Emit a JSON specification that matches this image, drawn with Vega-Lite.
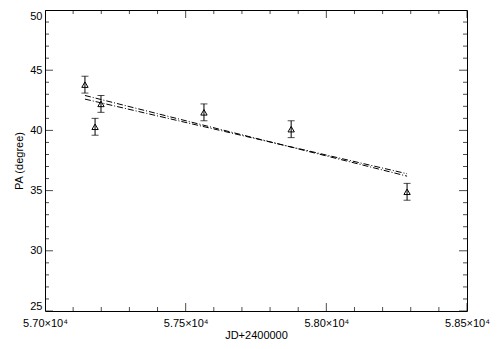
{
  "$schema": "https://vega.github.io/schema/vega-lite/v6.json",
  "width": 422,
  "height": 301,
  "autosize": {"type": "none"},
  "padding": {"left": 45, "top": 10, "right": 35, "bottom": 38},
  "background": "white",
  "config": {
    "view": {"stroke": "black", "strokeWidth": 1},
    "axis": {"labelFont": "Liberation Sans", "titleFont": "Liberation Sans", "labelFontSize": 11, "titleFontSize": 11, "titleFontWeight": "normal", "domain": false, "ticks": false, "labelColor": "black", "titleColor": "black", "grid": false}
  },
  "datasets": {
    "obs": [
      {"jd": 57142, "pa": 43.8, "lo": 43.1, "hi": 44.5},
      {"jd": 57178, "pa": 40.3, "lo": 39.6, "hi": 41.0},
      {"jd": 57199, "pa": 42.2, "lo": 41.5, "hi": 42.9},
      {"jd": 57565, "pa": 41.5, "lo": 40.8, "hi": 42.2},
      {"jd": 57875, "pa": 40.1, "lo": 39.4, "hi": 40.8},
      {"jd": 58287, "pa": 34.9, "lo": 34.2, "hi": 35.6}
    ],
    "fit": [
      {"jd": 57142, "pa": 42.9, "fit": "a"},
      {"jd": 58287, "pa": 36.2, "fit": "a"},
      {"jd": 57142, "pa": 42.6, "fit": "b"},
      {"jd": 58287, "pa": 36.4, "fit": "b"}
    ],
    "xmaj": [{"v": 57000}, {"v": 57500}, {"v": 58000}, {"v": 58500}],
    "xmin": [{"v": 57100}, {"v": 57200}, {"v": 57300}, {"v": 57400}, {"v": 57600}, {"v": 57700}, {"v": 57800}, {"v": 57900}, {"v": 58100}, {"v": 58200}, {"v": 58300}, {"v": 58400}],
    "ymaj": [{"v": 25}, {"v": 30}, {"v": 35}, {"v": 40}, {"v": 45}, {"v": 50}],
    "ymin": [{"v": 26}, {"v": 27}, {"v": 28}, {"v": 29}, {"v": 31}, {"v": 32}, {"v": 33}, {"v": 34}, {"v": 36}, {"v": 37}, {"v": 38}, {"v": 39}, {"v": 41}, {"v": 42}, {"v": 43}, {"v": 44}, {"v": 46}, {"v": 47}, {"v": 48}, {"v": 49}]
  },
  "layer": [
    {
      "data": {"name": "fit"},
      "mark": {"type": "line", "color": "black", "strokeWidth": 1, "strokeDash": [6, 2, 1, 2]},
      "encoding": {
        "x": {"field": "jd", "type": "quantitative", "scale": {"domain": [57000, 58500], "nice": false, "zero": false},
          "axis": {"orient": "bottom", "title": "JD+2400000", "titlePadding": 1, "values": [57000, 57500, 58000, 58500],
            "labelExpr": "format(datum.value/10000, '.2f') + '×10⁴'", "labelPadding": 6, "labelFlush": false, "labelOverlap": false}},
        "y": {"field": "pa", "type": "quantitative", "scale": {"domain": [25, 50], "nice": false, "zero": false},
          "axis": {"orient": "left", "title": "PA (degree)", "titlePadding": 5, "values": [25, 30, 35, 40, 45, 50],
            "labelPadding": 3, "labelFlush": true, "labelOverlap": false}},
        "detail": {"field": "fit"}
      }
    },
    {
      "data": {"name": "ymaj"},
      "mark": {"type": "tick", "orient": "horizontal", "color": "black", "size": 16, "thickness": 1, "clip": true},
      "encoding": {"x": {"datum": 57000, "type": "quantitative"}, "y": {"field": "v", "type": "quantitative"}}
    },
    {
      "data": {"name": "ymaj"},
      "mark": {"type": "tick", "orient": "horizontal", "color": "black", "size": 16, "thickness": 1, "clip": true},
      "encoding": {"x": {"datum": 58500, "type": "quantitative"}, "y": {"field": "v", "type": "quantitative"}}
    },
    {
      "data": {"name": "ymin"},
      "mark": {"type": "tick", "orient": "horizontal", "color": "black", "size": 8, "thickness": 1, "clip": true},
      "encoding": {"x": {"datum": 57000, "type": "quantitative"}, "y": {"field": "v", "type": "quantitative"}}
    },
    {
      "data": {"name": "ymin"},
      "mark": {"type": "tick", "orient": "horizontal", "color": "black", "size": 8, "thickness": 1, "clip": true},
      "encoding": {"x": {"datum": 58500, "type": "quantitative"}, "y": {"field": "v", "type": "quantitative"}}
    },
    {
      "data": {"name": "xmaj"},
      "mark": {"type": "tick", "orient": "vertical", "color": "black", "size": 16, "thickness": 1, "clip": true},
      "encoding": {"y": {"datum": 25, "type": "quantitative"}, "x": {"field": "v", "type": "quantitative"}}
    },
    {
      "data": {"name": "xmaj"},
      "mark": {"type": "tick", "orient": "vertical", "color": "black", "size": 16, "thickness": 1, "clip": true},
      "encoding": {"y": {"datum": 50, "type": "quantitative"}, "x": {"field": "v", "type": "quantitative"}}
    },
    {
      "data": {"name": "xmin"},
      "mark": {"type": "tick", "orient": "vertical", "color": "black", "size": 8, "thickness": 1, "clip": true},
      "encoding": {"y": {"datum": 25, "type": "quantitative"}, "x": {"field": "v", "type": "quantitative"}}
    },
    {
      "data": {"name": "xmin"},
      "mark": {"type": "tick", "orient": "vertical", "color": "black", "size": 8, "thickness": 1, "clip": true},
      "encoding": {"y": {"datum": 50, "type": "quantitative"}, "x": {"field": "v", "type": "quantitative"}}
    },
    {
      "data": {"name": "obs"},
      "mark": {"type": "rule", "color": "black", "strokeWidth": 1},
      "encoding": {
        "x": {"field": "jd", "type": "quantitative"},
        "y": {"field": "lo", "type": "quantitative"},
        "y2": {"field": "hi"}
      }
    },
    {
      "data": {"name": "obs"},
      "mark": {"type": "tick", "orient": "horizontal", "color": "black", "size": 7, "thickness": 1},
      "encoding": {
        "x": {"field": "jd", "type": "quantitative"},
        "y": {"field": "lo", "type": "quantitative"}
      }
    },
    {
      "data": {"name": "obs"},
      "mark": {"type": "tick", "orient": "horizontal", "color": "black", "size": 7, "thickness": 1},
      "encoding": {
        "x": {"field": "jd", "type": "quantitative"},
        "y": {"field": "hi", "type": "quantitative"}
      }
    },
    {
      "data": {"name": "obs"},
      "mark": {"type": "point", "shape": "triangle-up", "filled": false, "color": "black", "strokeWidth": 1, "size": 40, "opacity": 1},
      "encoding": {
        "x": {"field": "jd", "type": "quantitative"},
        "y": {"field": "pa", "type": "quantitative"}
      }
    }
  ]
}
